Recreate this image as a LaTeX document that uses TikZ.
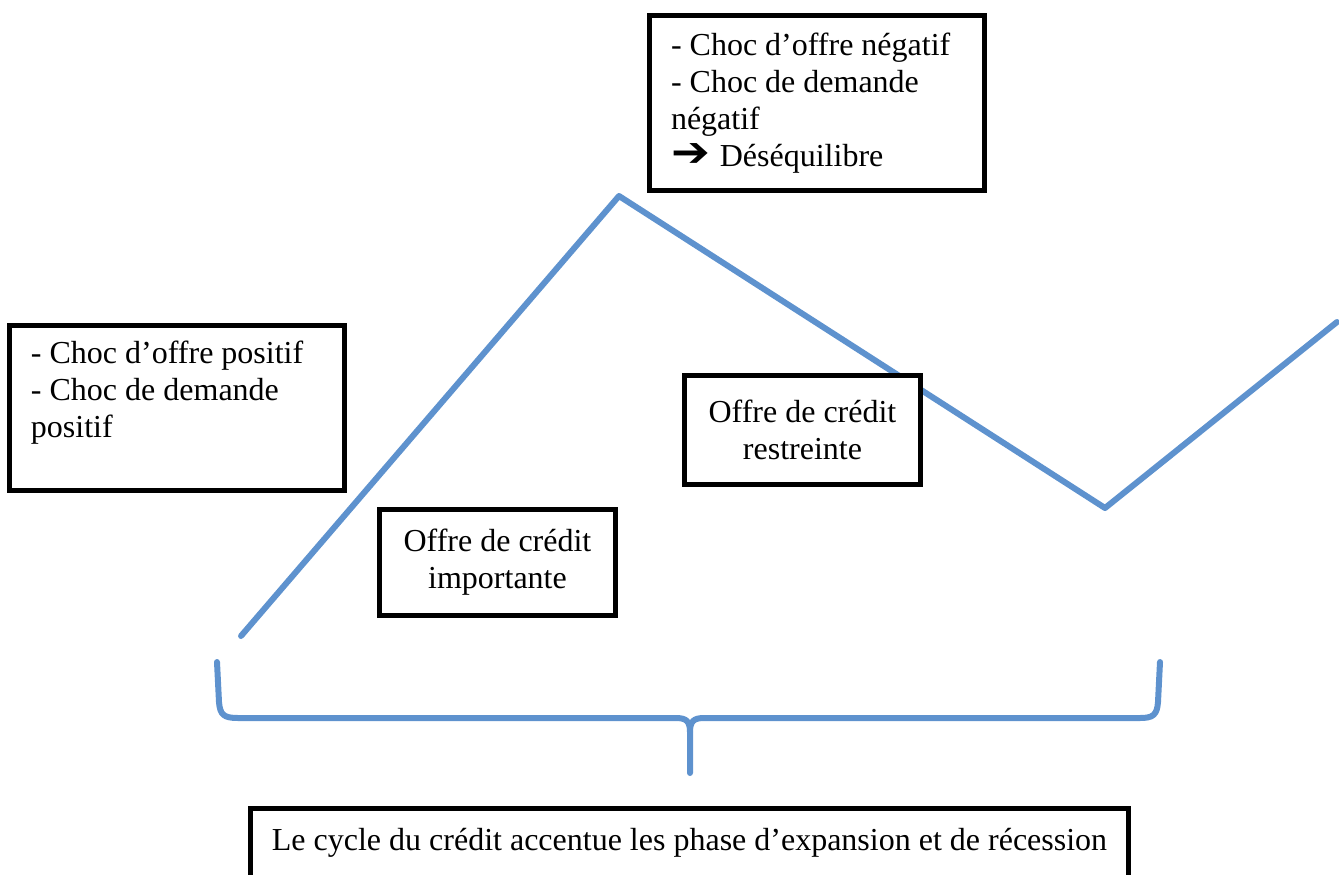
\documentclass[tikz,border=0pt]{standalone}
\usepackage{fontspec}
\setmainfont{Liberation Serif}
\newfontfamily\flechefont{DejaVu Sans}
\definecolor{cyclebleu}{RGB}{94,146,206}

\begin{document}
\begin{tikzpicture}[x=0.5pt,y=-0.5pt,every node/.style={font=\fontsize{16}{18.5}\selectfont},
        boite/.style={draw, line width=2.4pt, fill=white, inner sep=0pt},
        courbe/.style={cyclebleu, line width=3pt, line cap=round, line join=round}]
                \clip (0,0) rectangle (1339,874);
                % le cycle
                \coordinate (debut) at (241,636);
                \coordinate (pic) at (619,196);
                \coordinate (creux) at (1105,508);
                \coordinate (fin) at (1337,322);
                \draw[courbe] (debut) -- (pic) -- (creux) -- (fin);
                % l'accolade
                \draw[courbe] (217,662) -- (219,702) .. controls (220,715) and (224,718) .. (238,718)
                    -- (676,718) .. controls (686,718) and (690,721) .. (690,732) -- (690,773);
                \draw[courbe] (1160,662) -- (1158,702) .. controls (1157,715) and (1153,718) .. (1140,718)
                    -- (704,718) .. controls (694,718) and (690,721) .. (690,732);
                % les boites
                \node[boite, minimum width=167.5pt, minimum height=82.5pt, text width=146pt, align=flush left] (chocpos) at (177,408)
                    {- Choc d’offre positif\\- Choc de demande\\positif\\~};
                \node[boite, minimum width=167.5pt, minimum height=87.5pt, text width=146pt, align=flush left] (chocneg) at (817,103)
                    {- Choc d’offre négatif\\- Choc de demande\\négatif\\\scalebox{1.45}[1.3]{\flechefont ➔}\hspace{5pt}Déséquilibre};
                \node[boite, minimum width=118pt, minimum height=53pt, align=center] (importante) at (497.5,562.5)
                    {Offre de crédit\\importante};
                \node[boite, minimum width=118pt, minimum height=54.5pt, align=center] (restreinte) at (802.5,430)
                    {Offre de crédit\\restreinte};
                \node[boite, anchor=north, minimum width=439pt, inner ysep=0pt, text height=21pt, text depth=40pt] (cycle) at (689.5,806)
                    {Le cycle du crédit accentue les phase d’expansion et de récession};
            \end{tikzpicture}
\end{document}
